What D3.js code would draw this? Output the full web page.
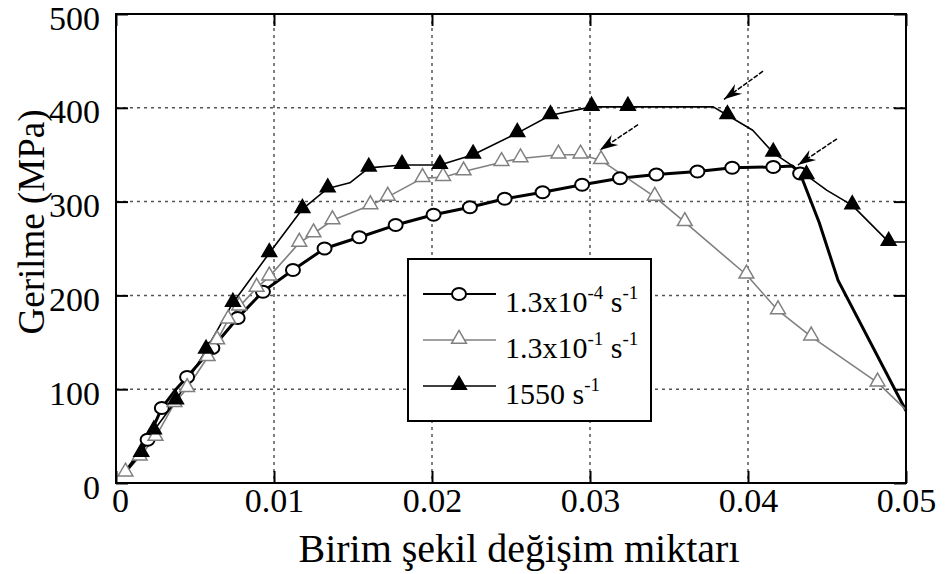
<!DOCTYPE html>
<html>
<head>
<meta charset="utf-8">
<script src="https://cdn.jsdelivr.net/npm/d3@7"></script>
<style>
  body { margin: 0; background: #fff; }
  svg { display: block; font-family: "Liberation Serif", "Times New Roman", serif; }
</style>
</head>
<body>
<svg width="945" height="574"></svg>
<script>
// strain (x) and stress in MPa (y); mark = 1 where a symbol is drawn
var s1Strain = [0.0005, 0.0013, 0.0020, 0.0029, 0.0038, 0.0045, 0.0061, 0.0077, 0.0093, 0.0112, 0.0132, 0.0154, 0.0177, 0.0201, 0.0224, 0.0246, 0.0270, 0.0295, 0.0319, 0.0342, 0.0368, 0.0390, 0.0416, 0.0428, 0.0433, 0.0445, 0.0457, 0.0500];
var s1Stress = [10, 28, 46, 80, 100, 113, 144, 176, 204, 227, 250, 262, 275, 286, 294, 303, 310, 318, 325, 329, 332, 336, 337, 338, 330, 278, 216, 77];
var s1Mark   = [0, 0, 1, 1, 0, 1, 1, 1, 1, 1, 1, 1, 1, 1, 1, 1, 1, 1, 1, 1, 1, 1, 1, 0, 1, 0, 0, 0];

var s2Strain = [0.0006, 0.0015, 0.0025, 0.0037, 0.0045, 0.0058, 0.0064, 0.0071, 0.0078, 0.0089, 0.0097, 0.0116, 0.0125, 0.0137, 0.0161, 0.0172, 0.0194, 0.0207, 0.0220, 0.0244, 0.0256, 0.0280, 0.0294, 0.0307, 0.0341, 0.0360, 0.0399, 0.0419, 0.0440, 0.0482, 0.0500];
var s2Stress = [11, 28, 49, 85, 101, 134, 152, 174, 188, 208, 220, 256, 266, 280, 296, 305, 325, 326, 332, 342, 346, 350, 350, 344, 305, 278, 222, 184, 156, 107, 78];
var s2Mark   = [1, 1, 1, 1, 1, 1, 1, 1, 1, 1, 1, 1, 1, 1, 1, 1, 1, 1, 1, 1, 1, 1, 1, 1, 1, 1, 1, 1, 1, 1, 0];

var s3Strain = [0.0008, 0.0016, 0.0024, 0.0038, 0.0057, 0.0074, 0.0097, 0.0118, 0.0134, 0.0148, 0.0160, 0.0181, 0.0205, 0.0226, 0.0254, 0.0275, 0.0301, 0.0324, 0.0378, 0.0387, 0.0403, 0.0416, 0.0437, 0.0450, 0.0466, 0.0489, 0.0500];
var s3Stress = [15, 32, 56, 88, 142, 192, 245, 292, 314, 320, 336, 339, 339, 350, 373, 392, 401, 401, 401, 392, 376, 352, 328, 312, 296, 257, 257];
var s3Mark   = [0, 1, 1, 1, 1, 1, 1, 1, 1, 0, 1, 1, 1, 1, 1, 1, 1, 1, 0, 1, 0, 1, 1, 0, 1, 1, 0];

var legendLabels = [["1.3x10", "-4", " s", "-1"], ["1.3x10", "-1", " s", "-1"], ["1550 s", "-1", "", ""]];

var xTicks = [0, 0.01, 0.02, 0.03, 0.04, 0.05];
var yTicks = [0, 100, 200, 300, 400, 500];

// arrows: tail strain, tail stress, head strain, head stress
var arrowTail = [[0.04095, 439], [0.03304, 382], [0.04563, 367]];
var arrowHead = [[0.03848, 409], [0.03063, 355], [0.04316, 339]];

var svg = d3.select("svg");
var pLeft = 116, pRight = 906, pTop = 14, pBottom = 483;

var x = d3.scaleLinear().domain([0, 0.05]).range([pLeft, pRight]);
var y = d3.scaleLinear().domain([0, 500]).range([pBottom, pTop]);

// dotted grid
var grid = svg.append("g").attr("class", "grid")
    .attr("stroke", "#555").attr("stroke-width", 1.5).attr("stroke-dasharray", "3,4");
grid.selectAll("line.gx").data(xTicks.slice(1, -1)).enter().append("line")
    .attr("x1", d => x(d)).attr("x2", d => x(d)).attr("y1", pTop).attr("y2", pBottom);
grid.selectAll("line.gy").data(yTicks.slice(1, -1)).enter().append("line")
    .attr("y1", d => y(d)).attr("y2", d => y(d)).attr("x1", pLeft).attr("x2", pRight);

function pts(xs, ys, ms) {
    return xs.map(function (v, i) { return {x: v, y: ys[i], m: ms[i]}; });
}

var series = [
    {data: pts(s1Strain, s1Stress, s1Mark), color: "#000", width: 3, shape: "circle", fill: "#fff"},
    {data: pts(s2Strain, s2Stress, s2Mark), color: "#808080", width: 1.6, shape: "tri", fill: "#fff"},
    {data: pts(s3Strain, s3Stress, s3Mark), color: "#000", width: 1.6, shape: "tri", fill: "#000"}
];

var line = d3.line().x(d => x(d.x)).y(d => y(d.y));
var triangle = d3.symbol().type(d3.symbolTriangle).size(95);

function drawMarker(g, s, cx, cy) {
    if (s.shape === "circle") {
        g.append("ellipse").attr("cx", cx).attr("cy", cy).attr("rx", 7).attr("ry", 6)
            .attr("fill", s.fill).attr("stroke", s.color).attr("stroke-width", 2);
    } else {
        g.append("path").attr("d", triangle).attr("transform", "translate(" + cx + "," + (cy - 1) + ")")
            .attr("fill", s.fill).attr("stroke", s.color).attr("stroke-width", 1.5);
    }
}

var plot = svg.append("g").attr("class", "series");
series.forEach(function (s) {
    plot.append("path").datum(s.data).attr("d", line)
        .attr("fill", "none").attr("stroke", s.color).attr("stroke-width", s.width)
        .attr("stroke-linejoin", "round");
});
series.forEach(function (s) {
    var g = plot.append("g");
    s.data.filter(d => d.m).forEach(function (d) { drawMarker(g, s, x(d.x), y(d.y)); });
});

// arrows
var arrows = svg.append("g").attr("class", "arrows");
arrowTail.forEach(function (t, i) {
    var x0 = x(t[0]), y0 = y(t[1]), x1 = x(arrowHead[i][0]), y1 = y(arrowHead[i][1]);
    var a = Math.atan2(y1 - y0, x1 - x0);
    arrows.append("line").attr("x1", x0).attr("y1", y0).attr("x2", x1).attr("y2", y1)
        .attr("stroke", "#000").attr("stroke-width", 1.5).attr("stroke-dasharray", "5,1.5");
    var L = 18, W = 6, N = 12;
    var p = [
        [x1, y1],
        [x1 - L * Math.cos(a) + W * Math.sin(a), y1 - L * Math.sin(a) - W * Math.cos(a)],
        [x1 - N * Math.cos(a), y1 - N * Math.sin(a)],
        [x1 - L * Math.cos(a) - W * Math.sin(a), y1 - L * Math.sin(a) + W * Math.cos(a)]
    ];
    arrows.append("path").attr("d", "M" + p.join("L") + "Z").attr("fill", "#000");
});

// legend
var leg = svg.append("g").attr("class", "legend");
leg.append("rect").attr("x", 408).attr("y", 259).attr("width", 243).attr("height", 162)
    .attr("fill", "#fff").attr("stroke", "#000").attr("stroke-width", 2);
series.forEach(function (s, i) {
    var ly = 294 + i * 46;
    leg.append("line").attr("x1", 423).attr("x2", 496).attr("y1", ly).attr("y2", ly)
        .attr("stroke", s.color).attr("stroke-width", s.shape === "circle" ? 2 : 1.6);
    drawMarker(leg, s, 459, ly);
    var lab = legendLabels[i];
    var t = leg.append("text").attr("x", 505).attr("y", ly + 18).attr("font-size", 30).attr("fill", "#000");
    t.append("tspan").text(lab[0]);
    t.append("tspan").attr("dy", -13).attr("font-size", 19).text(lab[1]);
    if (lab[2]) {
        t.append("tspan").attr("dy", 13).text(lab[2]);
        t.append("tspan").attr("dy", -13).attr("font-size", 19).text(lab[3]);
    }
});

// axes: ticks point inwards on all four sides
var fmtX = d => d === 0 ? "0" : d.toFixed(2);
var axB = svg.append("g").attr("transform", "translate(0," + pBottom + ")")
    .call(d3.axisBottom(x).tickValues(xTicks).tickSize(-12).tickFormat(fmtX));
var axL = svg.append("g").attr("transform", "translate(" + pLeft + ",0)")
    .call(d3.axisLeft(y).tickValues(yTicks).tickSize(-12).tickPadding(16));
svg.append("g").attr("transform", "translate(0," + pTop + ")")
    .call(d3.axisTop(x).tickValues(xTicks).tickSize(-12).tickFormat(""));
svg.append("g").attr("transform", "translate(" + pRight + ",0)")
    .call(d3.axisRight(y).tickValues(yTicks).tickSize(-12).tickFormat(""));

svg.selectAll(".domain").remove();
svg.selectAll(".tick line").attr("stroke", "#000").attr("stroke-width", 2);
axB.selectAll("text").attr("y", 29).attr("dy", 0).attr("font-size", 34)
    .attr("font-family", "Liberation Serif").attr("fill", "#000");
axB.selectAll(".tick").filter(d => d === 0).select("text").attr("dx", 4);
axL.selectAll("text").attr("dy", 15).attr("font-size", 34)
    .attr("font-family", "Liberation Serif").attr("fill", "#000");

// frame
svg.append("rect").attr("x", pLeft).attr("y", pTop).attr("width", pRight - pLeft).attr("height", pBottom - pTop)
    .attr("fill", "none").attr("stroke", "#000").attr("stroke-width", 2);

// axis titles
svg.append("text").attr("x", 519).attr("y", 562).attr("text-anchor", "middle")
    .attr("font-size", 40).text("Birim şekil değişim miktarı");
svg.append("text").attr("transform", "translate(44,222) rotate(-90)").attr("text-anchor", "middle")
    .attr("font-size", 37).text("Gerilme (MPa)");
</script>
</body>
</html>
